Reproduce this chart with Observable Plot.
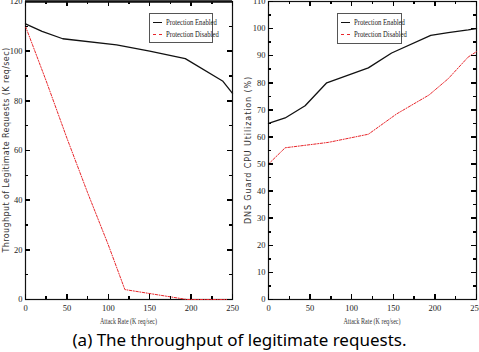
<!DOCTYPE html>
<html>
<head>
<meta charset="utf-8">
<script src="https://cdn.jsdelivr.net/npm/d3@7"></script>
<script src="https://cdn.jsdelivr.net/npm/@observablehq/plot@0.6"></script>
<style>
  html, body { margin: 0; padding: 0; background: #fff; }
  #wrap { width: 479px; height: 352px; position: relative; overflow: hidden; }
  #panels { display: flex; }
  .panel { position: relative; }
  .legend {
    position: absolute; border: 1px solid #555; background: #fff;
    font-family: "Liberation Serif", serif; font-size: 9px; color: #222;
    padding: 3px 3px; line-height: 11.5px; box-sizing: border-box;
  }
  .legend .row { display: flex; align-items: center; white-space: nowrap; }
  .legend .sw { width: 9px; height: 0; margin-right: 4px; flex: none; }
  .legend .lbl { display: inline-block; transform: scaleX(0.74); transform-origin: left center; }
  #caption {
    font-family: "Noto Sans", sans-serif; font-size: 17px; color: #000;
    text-align: center; line-height: 20px; margin-top: 4px;
  }
</style>
</head>
<body>
<div id="wrap">
  <div id="panels"></div>
  <div id="caption">(a) The throughput of legitimate requests.</div>
</div>
<script>
// Left panel: legitimate throughput vs attack rate
const rateEnabledT = [0, 20, 45, 110, 150, 193, 238, 250];
const throughputEnabled = [111, 108, 105, 102.5, 100, 97, 88, 83];
const rateDisabledT = [0, 25, 50, 75, 100, 120, 195, 250];
const throughputDisabled = [110, 88, 65, 43, 22, 4, 0, 0];

// Right panel: DNS Guard CPU utilization vs attack rate
const rateEnabledC = [0, 20, 44, 70, 120, 148, 195, 216, 240, 250];
const cpuEnabled = [65, 67, 71.5, 80, 85.5, 91, 97.5, 98.5, 99.5, 100];
const rateDisabledC = [0, 20, 46, 72, 120, 154, 193, 216, 240, 250];
const cpuDisabled = [50, 56, 57, 58, 61, 68.5, 75.5, 81.5, 89.5, 91.5];

const seriesNames = ["Protection Enabled", "Protection Disabled"];
const xTicks = [0, 50, 100, 150, 200, 250];
const xMinor = [25, 75, 125, 175, 225];
const yTicksT = [0, 20, 40, 60, 80, 100, 120];
const yMinorT = [10, 30, 50, 70, 90, 110];
const yTicksC = [0, 10, 20, 30, 40, 50, 60, 70, 80, 90, 100, 110];
const yMinorC = [5, 15, 25, 35, 45, 55, 65, 75, 85, 95, 105];

const xTitle = "Attack Rate (K req/sec)";
const RED = "#e8262b";
const HEIGHT = 326, M_TOP = 1, M_BOTTOM = 27;

const toRows = (xs, ys) => xs.map((x, i) => ({x, y: ys[i]}));

const tickStyle = {stroke: "#000", strokeWidth: 1.5, shapeRendering: "crispEdges"};

// short tick marks inside the frame, on both opposite sides
function xTickMarks(ticks, size, innerH) {
  return [
    Plot.tickX(ticks, {x: d => d, ...tickStyle, insetTop: innerH - size}),
    Plot.tickX(ticks, {x: d => d, ...tickStyle, insetBottom: innerH - size})
  ];
}
function yTickMarks(ticks, size, innerW) {
  return [
    Plot.tickY(ticks, {y: d => d, ...tickStyle, insetRight: innerW - size}),
    Plot.tickY(ticks, {y: d => d, ...tickStyle, insetLeft: innerW - size})
  ];
}

function panel({width, marginLeft, marginRight, yDomain, yTicks, yMinor, enabled, disabled, thickTop}) {
  const innerW = width - marginLeft - marginRight;
  const innerH = HEIGHT - M_TOP - M_BOTTOM;
  const marks = [
    Plot.frame({stroke: "#111", strokeWidth: 1.2}),
    // tick labels
    Plot.axisX(xTicks, {anchor: "bottom", tickSize: 0, tickPadding: 5, label: null, tickFormat: d => d, fontSize: 8.5}),
    Plot.axisY(yTicks, {anchor: "left", tickSize: 0, tickPadding: 3, label: null, tickFormat: d => d, fontSize: 8.5}),
    Plot.lineY(disabled, {x: "x", y: "y", stroke: RED, strokeWidth: 1, strokeDasharray: "2.5,1.5,1,1.5"}),
    Plot.lineY(enabled, {x: "x", y: "y", stroke: "#111", strokeWidth: 1.3}),
    // major and minor ticks on all four sides
    ...xTickMarks(xTicks, 5, innerH),
    ...xTickMarks(xMinor, 3, innerH),
    ...yTickMarks(yTicks, 5, innerW),
    ...yTickMarks(yMinor, 3, innerW)
  ];
  if (thickTop) marks.push(Plot.ruleY([yDomain[1]], {stroke: "#111", strokeWidth: 2.5}));
  return Plot.plot({
    width, height: HEIGHT,
    marginLeft, marginRight, marginTop: M_TOP, marginBottom: M_BOTTOM,
    style: {fontFamily: "Liberation Serif, serif", fontSize: "8.5px", color: "#222", background: "transparent"},
    x: {domain: [0, 250], axis: null},
    y: {domain: yDomain, axis: null},
    marks
  });
}

function addTitles(svg, yTitle, yTitleX, spacing, plotLeft, plotRight) {
  const ns = "http://www.w3.org/2000/svg";
  const t = document.createElementNS(ns, "text");
  t.setAttribute("transform", `translate(${yTitleX},150) rotate(-90)`);
  t.setAttribute("text-anchor", "middle");
  t.setAttribute("font-family", "DejaVu Sans, sans-serif");
  t.setAttribute("font-size", "8");
  t.setAttribute("letter-spacing", spacing);
  t.setAttribute("fill", "#333");
  t.textContent = yTitle;
  svg.appendChild(t);
  const xt = document.createElementNS(ns, "text");
  xt.setAttribute("x", (plotLeft + plotRight) / 2);
  xt.setAttribute("y", 324);
  xt.setAttribute("text-anchor", "middle");
  xt.setAttribute("font-family", "Liberation Serif, serif");
  xt.setAttribute("font-size", "7.5");
  xt.setAttribute("textLength", "57");
  xt.setAttribute("lengthAdjust", "spacingAndGlyphs");
  xt.setAttribute("fill", "#333");
  xt.textContent = xTitle;
  svg.appendChild(xt);
}

function legend(left, top, width, height) {
  const d = document.createElement("div");
  d.className = "legend";
  d.style.left = left + "px";
  d.style.top = top + "px";
  d.style.width = width + "px";
  d.style.height = height + "px";
  d.innerHTML =
    `<div class="row"><span class="sw" style="border-top:1.3px solid #111"></span><span class="lbl">${seriesNames[0]}</span></div>` +
    `<div class="row"><span class="sw" style="border-top:1px dashed ${RED}"></span><span class="lbl">${seriesNames[1]}</span></div>`;
  return d;
}

const host = document.getElementById("panels");

const left = document.createElement("div");
left.className = "panel";
const svgL = panel({
  width: 240, marginLeft: 25, marginRight: 8,
  yDomain: [0, 120], yTicks: yTicksT, yMinor: yMinorT,
  enabled: toRows(rateEnabledT, throughputEnabled),
  disabled: toRows(rateDisabledT, throughputDisabled),
  thickTop: true
});
addTitles(svgL, "Throughput of Legitimate Requests (K req/sec)", 9, 0.4, 25, 232);
left.appendChild(svgL);
left.appendChild(legend(149, 13, 64, 30));
host.appendChild(left);

const right = document.createElement("div");
right.className = "panel";
const svgR = panel({
  width: 239, marginLeft: 28, marginRight: 3,
  yDomain: [0, 110], yTicks: yTicksC, yMinor: yMinorC,
  enabled: toRows(rateEnabledC, cpuEnabled),
  disabled: toRows(rateDisabledC, cpuDisabled),
  thickTop: false
});
addTitles(svgR, "DNS Guard CPU Utilization (%)", 11, 0.9, 28, 236);
right.appendChild(svgR);
right.appendChild(legend(97, 13, 65, 31));
host.appendChild(right);
</script>
</body>
</html>
